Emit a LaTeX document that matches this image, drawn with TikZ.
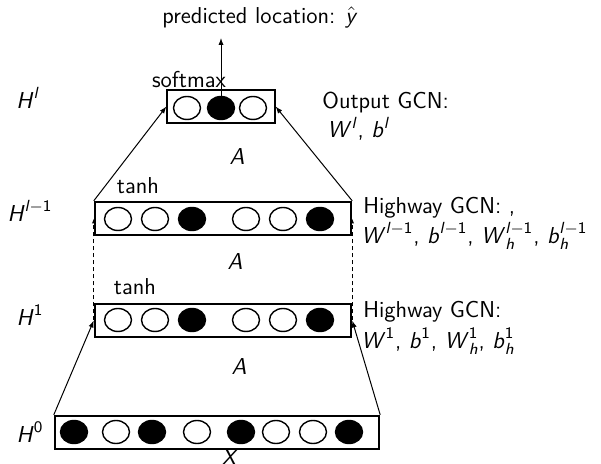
\documentclass[tikz,border=0pt]{standalone}
\usepackage{amsmath}
\usetikzlibrary{arrows.meta,shapes.geometric}
% sans-serif italic symbols for the layer variables
\newcommand\sv[1]{\text{\sffamily\itshape #1\/}}
\newcommand\sn[1]{\text{\sffamily #1}}
\begin{document}
\begin{tikzpicture}[x=0.5pt,y=-0.5pt,
  every node/.style={font=\fontsize{11.5}{13}\sffamily},
  outbox/.style={draw,line width=0.6pt,minimum height=16.5pt,inner sep=0pt},
  layerbox/.style={draw,line width=1.2pt,minimum height=16.5pt,inner sep=0pt},
  unit/.style={ellipse,draw,line width=0.7pt,minimum width=13.5pt,minimum height=11.5pt,inner sep=0pt},
  on/.style={unit,fill=black},
  off/.style={unit,fill=white},
  conn/.style={line width=0.5pt,-{Latex[length=3.5pt,width=2.6pt]}},
  link/.style={line width=0.5pt,dashed,dash pattern=on 2pt off 1.5pt,-{Latex[length=2.5pt,width=2pt]}},
  lbl/.style={anchor=west,inner sep=0pt}]
\useasboundingbox (0,0) rectangle (601,464);

% layer boxes
\node[outbox,minimum width=54pt] (sm) at (221,106.5) {};
\node[layerbox,minimum width=128pt] (hb) at (223,218.5) {};
\node[layerbox,minimum width=128pt] (ha) at (223,320.5) {};
\node[layerbox,minimum width=162pt] (hz) at (217,432.5) {};

% output layer units
\node[off] (s1) at (187,108) {};
\node[on]  (s2) at (221,108) {};
\node[off] (s3) at (253,108) {};

% hidden layer l-1 units
\node[off] (b1) at (118,219) {};
\node[off] (b2) at (155,219) {};
\node[on]  (b3) at (192,219) {};
\node[off] (b4) at (246,219) {};
\node[off] (b5) at (283,219) {};
\node[on]  (b6) at (320,219) {};

% hidden layer 1 units
\node[off] (a1) at (118,320) {};
\node[off] (a2) at (155,320) {};
\node[on]  (a3) at (192,320) {};
\node[off] (a4) at (246,320) {};
\node[off] (a5) at (283,320) {};
\node[on]  (a6) at (320,320) {};

% input layer units
\node[on]  (z1) at (74,432) {};
\node[off] (z2) at (116,432) {};
\node[on]  (z3) at (152,432) {};
\node[off] (z4) at (197,432) {};
\node[on]  (z5) at (241,432) {};
\node[off] (z6) at (276,432) {};
\node[off] (z7) at (313,432) {};
\node[on]  (z8) at (349,432) {};

% prediction
\node (pred) at (260,18) {predicted location: $\hat{\sv{y}}$};
\coordinate (top) at (221,38);
\draw[conn] (s2.center) -- (top);

% connections between layers
\draw[conn] (hb.north west) -- (sm.west);
\draw[conn] (hb.north east) -- (sm.east);
\draw[link] (ha.west) -- (hb.west);
\draw[link] (ha.east) -- (hb.east);
\draw[conn] (hz.north west) -- (ha.west);
\draw[conn] (hz.north east) -- (ha.east);

% activation labels
\node (tsm) at (189,80) {softmax};
\node (tb) at (138,186) {tanh};
\node (ta) at (135,287) {tanh};

% adjacency labels
\node (A1) at (237,157) {$\sv{A}$};
\node (A2) at (235,262) {$\sv{A}$};
\node (A3) at (239,367) {$\sv{A}$};
\node (X) at (230,458) {$\sv{X}$};

% layer names
\node (Hl)  at (28,98)  {$\sv{H}^{\sv{l}}$};
\node (Hl1) at (30,211) {$\sv{H}^{\sv{l}-\sn{1}}$};
\node (H1)  at (30,315) {$\sv{H}^{\sn{1}}$};
\node (H0)  at (30,432) {$\sv{H}^{\sn{0}}$};

% parameter labels
\node[lbl] (og)  at (322,103) {Output GCN:};
\node[lbl] (ogp) at (327,129) {$\sv{W}^{\sv{l}}$, $\sv{b}^{\sv{l}}$};
\node[lbl] (hg2)  at (363,208) {Highway GCN: ,};
\node[lbl] (hg2p) at (361,236) {$\sv{W}^{\sv{l}-\sn{1}}$, $\sv{b}^{\sv{l}-\sn{1}}$, $\sv{W}_{\sv{h}}^{\sv{l}-\sn{1}}$, $\sv{b}_{\sv{h}}^{\sv{l}-\sn{1}}$};
\node[lbl] (hg1)  at (363,312) {Highway GCN:};
\node[lbl] (hg1p) at (361,341) {$\sv{W}^{\sn{1}}$, $\sv{b}^{\sn{1}}$, $\sv{W}_{\sv{h}}^{\sn{1}}$, $\sv{b}_{\sv{h}}^{\sn{1}}$};
\end{tikzpicture}
\end{document}
